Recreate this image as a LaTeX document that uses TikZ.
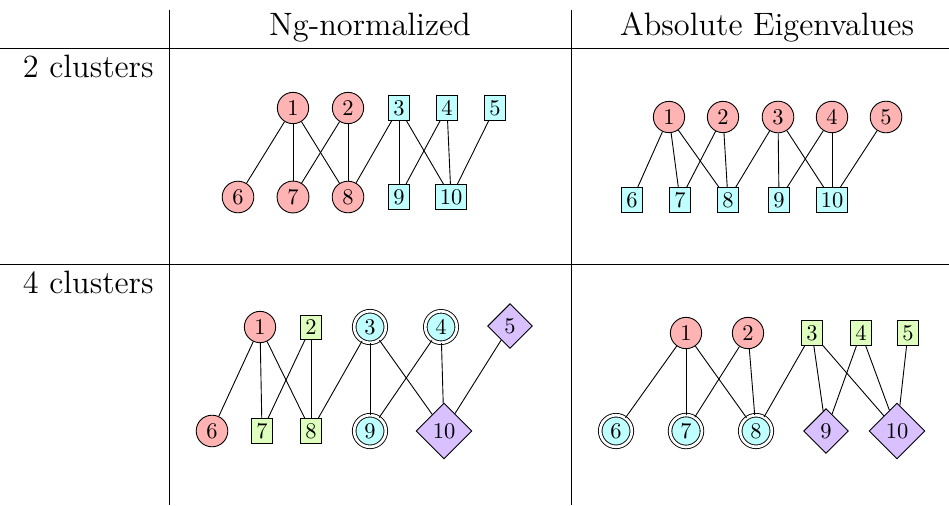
\documentclass[tikz,border=0pt]{standalone}
\usepackage{amsmath,amssymb}
\usepackage{tikz}
\usetikzlibrary{arrows.meta,positioning,shapes.geometric,calc}
\usepackage{xcolor}

\definecolor{redfill}{RGB}{255,179,179}
\definecolor{cyanfill}{RGB}{191,255,255}
\definecolor{greenfill}{RGB}{223,255,191}
\definecolor{violetfill}{RGB}{217,193,255}

\tikzset{
  vtx/.style={draw, inner sep=2pt, font=\normalsize},
  rednode/.style={vtx, circle, fill=redfill},
  cyanbox/.style={vtx, rectangle, fill=cyanfill},
  cyannode/.style={vtx, circle, fill=cyanfill, double, double distance=1.2pt},
  greenbox/.style={vtx, rectangle, fill=greenfill},
  violetnode/.style={vtx, diamond, aspect=1, fill=violetfill},
  heading/.style={font=\Large, inner sep=0pt}
}

\begin{document}
\begin{tikzpicture}[x=0.445pt, y=-0.445pt]
  \useasboundingbox (0,0) rectangle (949,505);

  % Table rules
  \coordinate (v1t) at (169,10);  \coordinate (v1b) at (169,505);
  \coordinate (v2t) at (571,10);  \coordinate (v2b) at (571,505);
  \coordinate (h1l) at (0,48);    \coordinate (h1r) at (949,48);
  \coordinate (h2l) at (0,264);   \coordinate (h2r) at (949,264);
  \draw (v1t) -- (v1b);
  \draw (v2t) -- (v2b);
  \draw (h1l) -- (h1r);
  \draw (h2l) -- (h2r);

  % Headings
  \node[heading, anchor=base] (ng) at (370,35) {Ng-normalized};
  \node[heading, anchor=base] (abs) at (767,35) {Absolute Eigenvalues};
  \node[heading, anchor=base east] (two) at (154,77) {2 clusters};
  \node[heading, anchor=base east] (four) at (154,293) {4 clusters};

  % Ng-normalized, 2 clusters
  \node[rednode] (a1) at (293,108) {1};
  \node[rednode] (a2) at (348,108) {2};
  \node[cyanbox] (a3) at (399,108) {3};
  \node[cyanbox] (a4) at (447,108) {4};
  \node[cyanbox] (a5) at (495,108) {5};
  \node[rednode] (a6) at (238,197) {6};
  \node[rednode] (a7) at (293,197) {7};
  \node[rednode] (a8) at (348,197) {8};
  \node[cyanbox] (a9) at (399,197) {9};
  \node[cyanbox] (a10) at (451,197) {10};

  \draw (a1) -- (a6);
  \draw (a1) -- (a7);
  \draw (a1) -- (a8);
  \draw (a2) -- (a7);
  \draw (a2) -- (a8);
  \draw (a3) -- (a8);
  \draw (a3) -- (a9);
  \draw (a3) -- (a10);
  \draw (a4) -- (a9);
  \draw (a4) -- (a10);
  \draw (a5) -- (a10);

  % Absolute Eigenvalues, 2 clusters
  \node[rednode] (b1) at (669,117) {1};
  \node[rednode] (b2) at (723,117) {2};
  \node[rednode] (b3) at (778,117) {3};
  \node[rednode] (b4) at (832,117) {4};
  \node[rednode] (b5) at (886,117) {5};
  \node[cyanbox] (b6) at (632,200) {6};
  \node[cyanbox] (b7) at (680,200) {7};
  \node[cyanbox] (b8) at (728,200) {8};
  \node[cyanbox] (b9) at (779,200) {9};
  \node[cyanbox] (b10) at (832,200) {10};

  \draw (b1) -- (b6);
  \draw (b1) -- (b7);
  \draw (b1) -- (b8);
  \draw (b2) -- (b7);
  \draw (b2) -- (b8);
  \draw (b3) -- (b8);
  \draw (b3) -- (b9);
  \draw (b3) -- (b10);
  \draw (b4) -- (b9);
  \draw (b4) -- (b10);
  \draw (b5) -- (b10);

  % Ng-normalized, 4 clusters
  \node[rednode] (c1) at (260,327) {1};
  \node[greenbox] (c2) at (311,327) {2};
  \node[cyannode] (c3) at (370,327) {3};
  \node[cyannode] (c4) at (441,327) {4};
  \node[violetnode] (c5) at (510,326) {5};
  \node[rednode] (c6) at (212,431) {6};
  \node[greenbox] (c7) at (262,431) {7};
  \node[greenbox] (c8) at (311,431) {8};
  \node[cyannode] (c9) at (370,431) {9};
  \node[violetnode] (c10) at (444,431) {10};

  \draw (c1) -- (c6);
  \draw (c1) -- (c7);
  \draw (c1) -- (c8);
  \draw (c2) -- (c7);
  \draw (c2) -- (c8);
  \draw (c3) -- (c8);
  \draw (c3) -- (c9);
  \draw (c3) -- (c10);
  \draw (c4) -- (c9);
  \draw (c4) -- (c10);
  \draw (c5) -- (c10);

  % Absolute Eigenvalues, 4 clusters
  \node[rednode] (d1) at (686,333) {1};
  \node[rednode] (d2) at (748,333) {2};
  \node[greenbox] (d3) at (812,333) {3};
  \node[greenbox] (d4) at (861,333) {4};
  \node[greenbox] (d5) at (908,333) {5};
  \node[cyannode] (d6) at (616,431) {6};
  \node[cyannode] (d7) at (686,431) {7};
  \node[cyannode] (d8) at (756,431) {8};
  \node[violetnode] (d9) at (826,431) {9};
  \node[violetnode] (d10) at (897,431) {10};

  \draw (d1) -- (d6);
  \draw (d1) -- (d7);
  \draw (d1) -- (d8);
  \draw (d2) -- (d7);
  \draw (d2) -- (d8);
  \draw (d3) -- (d8);
  \draw (d3) -- (d9);
  \draw (d3) -- (d10);
  \draw (d4) -- (d9);
  \draw (d4) -- (d10);
  \draw (d5) -- (d10);
\end{tikzpicture}
\end{document}
